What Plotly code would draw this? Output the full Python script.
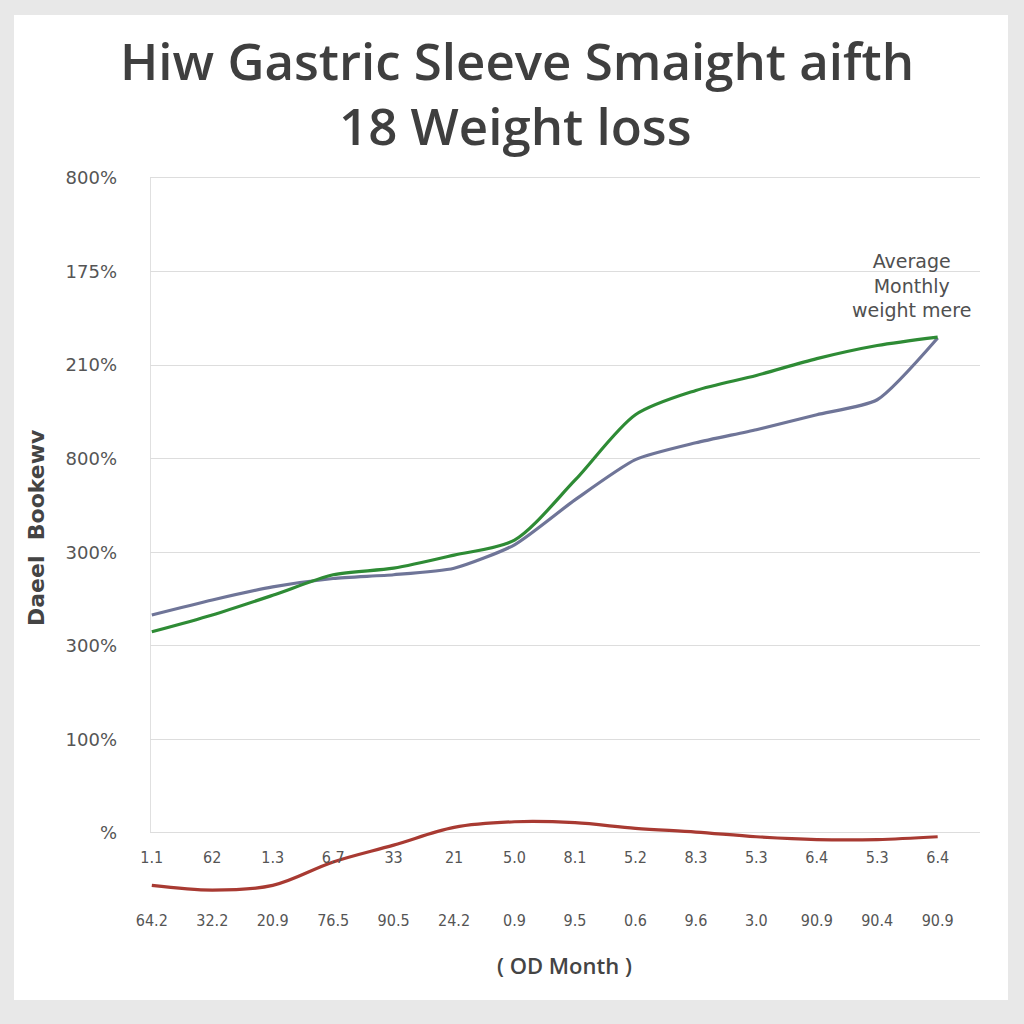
import plotly.graph_objects as go

months = list(range(14))
row1_labels = ["1.1", "62", "1.3", "6.7", "33", "21", "5.0", "8.1", "5.2", "8.3", "5.3", "6.4", "5.3", "6.4"]
row2_labels = ["64.2", "32.2", "20.9", "76.5", "90.5", "24.2", "0.9", "9.5", "0.6", "9.6", "3.0", "90.9", "90.4", "90.9"]

green_vals = [2.15, 2.33, 2.54, 2.76, 2.83, 2.97, 3.13, 3.77, 4.47, 4.73, 4.89, 5.07, 5.21, 5.30]
gray_vals = [2.33, 2.49, 2.63, 2.72, 2.76, 2.83, 3.08, 3.56, 3.99, 4.17, 4.31, 4.47, 4.63, 5.29]
red_vals = [-0.56, -0.61, -0.56, -0.31, -0.13, 0.06, 0.12, 0.11, 0.05, 0.01, -0.04, -0.07, -0.07, -0.04]

y_tickvals = [0, 1, 2, 3, 4, 5, 6, 7]
y_ticktext = ["%", "100%", "300%", "300%", "800%", "210%", "175%", "800%"]

title_line1 = "Hiw Gastric Sleeve Smaight aifth"
title_line2 = "18 Weight loss"
y_title = "Daeel  Bookewv"
x_title = "( OD Month )"
note_text = "Average<br>Monthly<br>weight mere"

# plot-area geometry (pixels) used to place paper-referenced text
L, R, T, B = 150, 980, 175, 908
def px(xp):
    return (xp - L) / (R - L)
def py(yp):
    return (B - yp) / (B - T)

fig = go.Figure()
fig.add_trace(go.Scatter(x=months, y=gray_vals, mode="lines",
                         line=dict(color="#6f7598", width=3.2, shape="spline", smoothing=0.6),
                         showlegend=False, hoverinfo="skip"))
fig.add_trace(go.Scatter(x=months, y=green_vals, mode="lines",
                         line=dict(color="#2e8b35", width=3.2, shape="spline", smoothing=0.8),
                         showlegend=False, hoverinfo="skip"))
fig.add_trace(go.Scatter(x=months, y=red_vals, mode="lines",
                         line=dict(color="#a83a32", width=3.2, shape="spline", smoothing=1.0),
                         showlegend=False, hoverinfo="skip"))

title_font = dict(family="Open Sans", size=51, color="#3f3f3f", weight=600)
mid = dict(xanchor="center", yanchor="middle", showarrow=False, xref="paper", yref="paper")

fig.update_layout(
    width=1024, height=1024,
    margin=dict(l=L, r=1024 - R, t=T, b=1024 - B),
    paper_bgcolor="#e8e8e8",
    plot_bgcolor="rgba(0,0,0,0)",
    font=dict(family="Open Sans", color="#555555"),
    xaxis=dict(range=[-0.03, 13.7], tickvals=months,
               ticktext=[a + "<br><br><br>" + b for a, b in zip(row1_labels, row2_labels)],
               showgrid=False, zeroline=False, showline=False, ticks="",
               anchor="free", position=0.084,
               tickfont=dict(family="Liberation Sans Narrow, DejaVu Sans Condensed", size=16, color="#555555")),
    yaxis=dict(range=[-0.8016, 7.032], tickvals=y_tickvals, ticktext=y_ticktext,
               showgrid=True, gridcolor="#dddddd", gridwidth=1.2, zeroline=False,
               showline=False, ticks="", ticklabelstandoff=32,
               tickfont=dict(family="DejaVu Sans", size=18, color="#555555")),
    shapes=[
        dict(type="rect", xref="paper", yref="paper", x0=px(14), x1=px(1008), y0=py(1000), y1=py(15),
             fillcolor="white", line=dict(width=0), layer="below"),
        dict(type="line", xref="x", yref="y", x0=-0.03, x1=-0.03, y0=0, y1=7,
             line=dict(color="#d6d6d6", width=1.5), layer="below"),
    ],
    annotations=[
        dict(text=title_line1, x=px(517), y=py(60), font=title_font, **mid),
        dict(text=title_line2, x=px(515), y=py(125), font=title_font, **mid),
        dict(text=note_text, x=px(911), y=py(285),
             font=dict(family="DejaVu Sans", size=19, color="#505050"), **mid),
        dict(text=y_title, x=px(36), y=py(528), textangle=-90,
             font=dict(family="DejaVu Sans", size=22, color="#444444", weight="bold"), **mid),
        dict(text=x_title, x=px(564), y=py(965),
             font=dict(family="Open Sans", size=22, color="#444444", weight=600), **mid),
    ],
)

fig.write_html("out.html")
